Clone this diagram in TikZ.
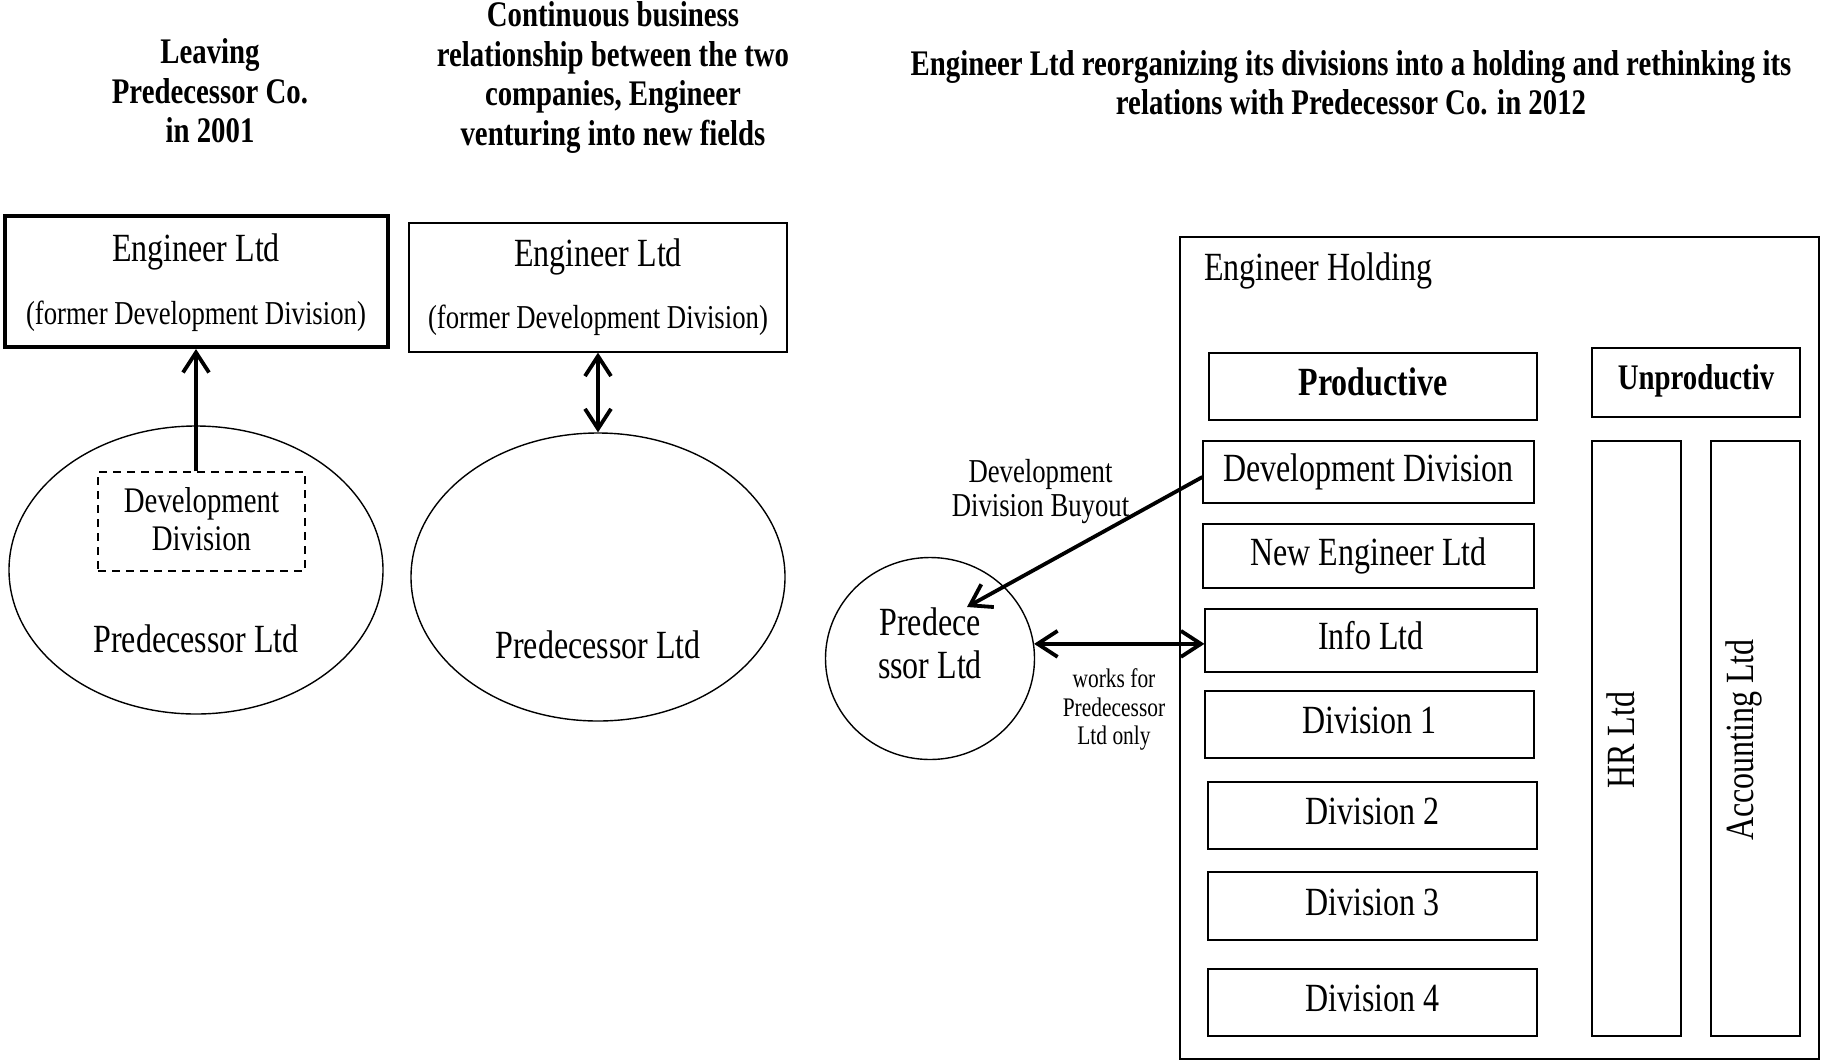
\documentclass[tikz,border=0pt]{standalone}
\usepackage{fontspec}
\setmainfont{Liberation Serif}[FakeStretch=0.8]
\usetikzlibrary{shapes.geometric,arrows.meta}
\newcommand{\fsz}[2]{\fontsize{#1}{#2}\selectfont}
\tikzset{
  box/.style={draw, line width=0.6pt, inner sep=0pt},
  thickbox/.style={draw, line width=2pt, inner sep=0pt},
  dashbox/.style={draw, dashed, line width=0.7pt, inner sep=0pt, dash pattern=on 4pt off 3pt},
  oval/.style={draw, ellipse, line width=0.7pt, inner sep=0pt},
  title/.style={font=\bfseries\fsz{18}{19.75}, align=center},
  txt/.style={font=\fsz{20}{23}, align=center},
  boxtxt/.style={font=\fsz{20}{23}, text height=13.2pt, text depth=4pt},
  small/.style={font=\fsz{16.7}{17.4}, align=center},
  tiny/.style={font=\fsz{13.4}{14.2}, align=center},
  headtip/.tip={Straight Barb[length=10pt,width=13pt,line width=1.9pt]},
  link/.style={line width=1.9pt, -headtip},
  dlink/.style={line width=1.9pt, headtip-headtip},
}
\begin{document}
\begin{tikzpicture}[x=0.5pt, y=-0.5pt]
\useasboundingbox (0,0) rectangle (1821,1061);

% headings of the three phases
\node[title] (t1) at (210,91) {Leaving\\Predecessor Co.\\in 2001};
\node[title] (t2) at (613,77.5) {Continuous business\\relationship between the two\\companies, Engineer\\venturing into new fields};
\node[title] (t3) at (1351,83) {Engineer Ltd reorganizing its divisions into a holding and rethinking its\\relations with Predecessor Co. in 2012};

% phase 1: spin-off
\node[thickbox, minimum width=191.5pt, minimum height=65.5pt] (engA) at (196,281.5) {};
\node[txt] (engAname) at (196,252) {Engineer Ltd};
\node[small] (engAsub) at (196,316) {(former Development Division)};
\node[oval, minimum width=187pt, minimum height=144pt] (predA) at (196,570) {};
\node[dashbox, minimum width=103.5pt, minimum height=49.5pt] (devA) at (201.5,521.5) {};
\node[font=\fsz{18}{19}, align=center] (devAtxt) at (201.5,519) {Development\\Division};
\node[txt] (predAtxt) at (196,639) {Predecessor Ltd};
\draw[link] (engA.south |- devA.north) -- (engA.south);

% phase 2: ongoing relationship
\node[box, minimum width=189pt, minimum height=64.5pt] (engB) at (598,287.5) {};
\node[txt] (engBname) at (598,257) {Engineer Ltd};
\node[small] (engBsub) at (598,320) {(former Development Division)};
\node[oval, minimum width=187pt, minimum height=144pt] (predB) at (598,577) {};
\node[txt] (predBtxt) at (598,645) {Predecessor Ltd};
\draw[dlink] (engB.south) -- (predB.north);

% phase 3: the holding
\node[box, minimum width=319.5pt, minimum height=411pt] (hold) at (1499.5,648) {};
\node[txt, anchor=west] (holdtxt) at (1197,270.5) {Engineer Holding};
\node[box, boxtxt, minimum width=164pt, minimum height=33.5pt, font=\bfseries\fsz{20}{23}] (prod) at (1373,386.5) {Productive};
\node[box, minimum width=104pt, minimum height=34.5pt] (unprod) at (1696,382.5) {};
\node[font=\bfseries\fsz{18}{21}] (unprodtxt) at (1696,381) {Unproductiv};
\node[box, boxtxt, minimum width=165.5pt, minimum height=31pt] (dev) at (1368.5,472) {Development Division};
\node[box, boxtxt, minimum width=165.5pt, minimum height=32pt] (neweng) at (1368.5,556) {New Engineer Ltd};
\node[box, boxtxt, minimum width=166pt, minimum height=31.5pt] (info) at (1371,640.5) {Info Ltd};
\node[box, boxtxt, minimum width=164.5pt, minimum height=33.5pt] (div1) at (1369.5,724.5) {Division 1};
\node[box, boxtxt, minimum width=164.5pt, minimum height=33.5pt] (div2) at (1372.5,815.5) {Division 2};
\node[box, boxtxt, minimum width=164.5pt, minimum height=34pt] (div3) at (1372.5,906) {Division 3};
\node[box, boxtxt, minimum width=164.5pt, minimum height=33.5pt] (div4) at (1372.5,1002.5) {Division 4};
\node[box, minimum width=44.5pt, minimum height=297.5pt] (hr) at (1636.5,738.5) {};
\node[txt, rotate=90] (hrtxt) at (1621,740) {HR Ltd};
\node[box, minimum width=44.5pt, minimum height=297.5pt] (acc) at (1755.5,738.5) {};
\node[txt, rotate=90] (acctxt) at (1744,740) {Accounting Ltd};

% Predecessor and its links to the holding
\node[oval, minimum width=104.5pt, minimum height=101pt] (pred) at (930,658.5) {};
\node[font=\fsz{20}{21.5}, align=center] (predtxt) at (930,643.5) {Predece\\ssor Ltd};
\coordinate (buyend) at (967,607);
\draw[link] ([yshift=-2.5pt]dev.west) -- (buyend);
\node[small] (buytxt) at (1040.5,491.5) {Development\\Division Buyout};
\draw[dlink] (pred.8) -- (pred.8 -| info.west);
\node[tiny] (worktxt) at (1114,709.5) {works for\\Predecessor\\Ltd only};
\end{tikzpicture}
\end{document}
